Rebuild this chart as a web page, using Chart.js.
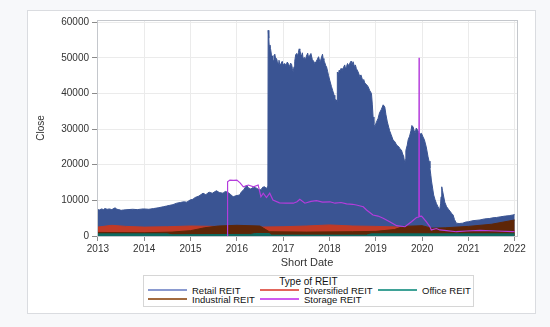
<!DOCTYPE html>
<html>
<head>
<meta charset="utf-8">
<script src="https://cdn.jsdelivr.net/npm/chart.js@4.4.1/dist/chart.umd.min.js"></script>
<style>
  html, body { margin: 0; padding: 0; background: #f7f8fa; }
  #wrap { position: relative; width: 550px; height: 327px; overflow: hidden; }
  #frame { position: absolute; left: 27px; top: 10px; width: 507px; height: 302px; background: #fff; border: 1px solid #dadce0; }
  #chart { position: absolute; left: 0; top: 0; }
  #legend { position: absolute; left: 143px; top: 275px; width: 329px; height: 30px; border: 1px solid #d6d6d6; background: #fff;
            font-family: "Liberation Sans", Arial, sans-serif; color: #111; }
  #legend .title { position: absolute; left: 0; right: 0; top: 0; text-align: center; font-size: 10px; line-height: 11px; }
  #legend .item { position: absolute; height: 10px; font-size: 9.5px; line-height: 10px; white-space: nowrap; }
  #legend .item i { display: inline-block; width: 39px; height: 0; border-top: 2px solid; vertical-align: middle; margin-right: 5px; position: relative; top: -1px; }
</style>
</head>
<body>
<div id="wrap">
  <div id="frame"></div>
  <canvas id="chart" width="550" height="327"></canvas>
  <div id="legend"></div>
</div>
<script>
// axis ticks
const yearTicks = [2013, 2014, 2015, 2016, 2017, 2018, 2019, 2020, 2021, 2022];
const closeTicks = [0, 10000, 20000, 30000, 40000, 50000, 60000];
const seriesNames = ['Retail REIT', 'Diversified REIT', 'Office REIT', 'Industrial REIT', 'Storage REIT'];

// [decimal year, close] pairs
const retailSeries = [
  [2013.00, 7400], [2013.03, 7300], [2013.08, 7600], [2013.12, 7400], [2013.15, 7700], [2013.20, 7500],
  [2013.25, 7600], [2013.30, 7400], [2013.37, 7900], [2013.41, 7500], [2013.45, 7400], [2013.50, 7200],
  [2013.55, 7300], [2013.65, 7400], [2013.75, 7500], [2013.85, 7400], [2013.98, 7600], [2014.10, 7500],
  [2014.20, 7700], [2014.30, 7900], [2014.41, 8200], [2014.48, 8400], [2014.55, 8600], [2014.62, 8800],
  [2014.70, 9200], [2014.78, 9400], [2014.85, 9600], [2014.92, 9500], [2014.99, 10100], [2015.05, 10300],
  [2015.10, 10800], [2015.18, 11200], [2015.27, 12000], [2015.33, 11600], [2015.40, 12300], [2015.47, 12000],
  [2015.56, 12700], [2015.62, 12200], [2015.70, 12000], [2015.75, 12500], [2015.80, 12300], [2015.86, 11700],
  [2015.92, 11000], [2015.98, 11300], [2016.06, 11500], [2016.10, 12400], [2016.15, 13000], [2016.21, 14300],
  [2016.25, 13500], [2016.30, 13200], [2016.36, 13700], [2016.43, 13400], [2016.48, 12900], [2016.52, 13000],
  [2016.56, 13700], [2016.60, 13800], [2016.64, 13300], [2016.67, 14000], [2016.676, 57700], [2016.69, 55500],
  [2016.70, 53000], [2016.715, 53600], [2016.727, 52600], [2016.745, 51000], [2016.76, 50500], [2016.77, 48700],
  [2016.784, 49300], [2016.80, 50600], [2016.82, 51000], [2016.84, 49500], [2016.857, 49800], [2016.875, 48900],
  [2016.89, 48500], [2016.91, 49300], [2016.928, 47900], [2016.95, 48300], [2016.98, 49000], [2017.00, 48000],
  [2017.036, 48400], [2017.06, 47800], [2017.09, 48800], [2017.12, 48100], [2017.144, 47500], [2017.16, 48500],
  [2017.18, 48200], [2017.20, 47000], [2017.215, 46000], [2017.235, 47500], [2017.25, 49000], [2017.27, 50800],
  [2017.289, 51200], [2017.31, 50600], [2017.33, 51500], [2017.345, 52500], [2017.36, 52100], [2017.38, 51000],
  [2017.40, 50500], [2017.415, 51400], [2017.431, 49800], [2017.46, 50100], [2017.48, 49400], [2017.50, 50400],
  [2017.53, 51300], [2017.55, 50000], [2017.576, 50700], [2017.60, 51200], [2017.63, 49500], [2017.66, 49000],
  [2017.684, 48400], [2017.71, 48900], [2017.74, 49600], [2017.765, 50300], [2017.792, 48900], [2017.81, 49300],
  [2017.83, 50200], [2017.85, 51000], [2017.863, 49800], [2017.88, 49200], [2017.90, 48600], [2017.92, 47800],
  [2017.936, 47500], [2017.96, 46200], [2017.98, 45000], [2018.01, 43500], [2018.044, 41900], [2018.07, 40800],
  [2018.10, 39500], [2018.115, 38000], [2018.14, 38300], [2018.165, 37700], [2018.17, 46000], [2018.19, 45200],
  [2018.21, 46500], [2018.223, 46000], [2018.25, 47000], [2018.27, 46300], [2018.30, 47200], [2018.33, 48000],
  [2018.35, 46800], [2018.368, 47500], [2018.39, 48400], [2018.42, 47700], [2018.44, 48500], [2018.47, 49100],
  [2018.49, 48000], [2018.51, 48900], [2018.54, 47500], [2018.56, 48000], [2018.58, 47000], [2018.62, 46000],
  [2018.655, 44700], [2018.68, 45200], [2018.72, 43500], [2018.74, 43900], [2018.763, 42900], [2018.80, 42500],
  [2018.834, 41900], [2018.87, 40800], [2018.907, 40000], [2018.925, 37000], [2018.942, 33400], [2018.96, 31500],
  [2018.979, 30600], [2019.01, 31800], [2019.05, 33000], [2019.08, 34500], [2019.12, 35500], [2019.16, 36800],
  [2019.195, 36200], [2019.22, 34000], [2019.25, 32000], [2019.28, 30500], [2019.30, 29500], [2019.33, 28500],
  [2019.374, 26900], [2019.41, 26500], [2019.45, 25500], [2019.50, 25000], [2019.52, 24500], [2019.555, 24100],
  [2019.58, 23000], [2019.60, 22500], [2019.627, 20400], [2019.64, 21500], [2019.65, 24000], [2019.68, 25500],
  [2019.70, 27000], [2019.73, 28000], [2019.76, 29500], [2019.78, 31000], [2019.806, 30600], [2019.83, 29500],
  [2019.85, 29000], [2019.875, 30300], [2019.90, 29800], [2019.93, 29000], [2019.96, 28600], [2019.987, 28800],
  [2020.02, 27800], [2020.05, 27000], [2020.09, 25000], [2020.129, 22200], [2020.15, 21000], [2020.17, 19000],
  [2020.19, 17000], [2020.20, 15700], [2020.23, 13200], [2020.25, 11500], [2020.28, 10200], [2020.31, 9100],
  [2020.34, 8300], [2020.36, 7800], [2020.38, 7300], [2020.40, 9000], [2020.41, 11000], [2020.425, 13800],
  [2020.44, 12800], [2020.46, 11500], [2020.49, 9500], [2020.53, 8200], [2020.57, 7500], [2020.60, 7000],
  [2020.64, 6300], [2020.67, 5900], [2020.70, 4600], [2020.74, 3600], [2020.80, 3500], [2020.88, 3600],
  [2020.94, 3900], [2021.00, 4000], [2021.10, 4300], [2021.25, 4500], [2021.35, 4800], [2021.45, 4900],
  [2021.53, 5100], [2021.61, 5200], [2021.70, 5400], [2021.80, 5600], [2021.88, 5700], [2021.96, 5900],
  [2022.00, 6000]
];

const diversifiedSeries = [
  [2013.0, 2500], [2013.3, 3000], [2013.6, 2700], [2014.0, 2500], [2014.5, 2600], [2015.0, 2800],
  [2015.5, 2700], [2016.0, 2600], [2016.5, 2500], [2017.0, 2600], [2017.5, 2800], [2018.0, 3100],
  [2018.5, 2800], [2019.0, 2700], [2019.5, 2500], [2020.0, 2600], [2020.15, 2300], [2020.25, 1300],
  [2020.5, 1500], [2021.0, 1200], [2021.5, 1300], [2022.0, 1400]
];

const officeSeries = [
  [2013.0, 600], [2014.5, 600], [2014.6, 350], [2016.3, 450], [2016.4, 700], [2016.7, 700],
  [2016.75, 250], [2018.8, 250], [2018.9, 600], [2022.0, 600]
];

const industrialSeries = [
  [2013.0, 1000], [2014.0, 900], [2014.6, 1100], [2015.0, 1500], [2015.3, 2300], [2015.6, 2800],
  [2016.0, 3000], [2016.5, 2800], [2016.7, 1200], [2017.5, 1100], [2018.5, 1200], [2019.0, 1300],
  [2019.4, 1800], [2019.6, 2700], [2020.0, 2900], [2020.2, 2200], [2020.5, 2300], [2021.0, 2700],
  [2021.5, 3300], [2022.0, 4500]
];

const storageSeries = [
  [2015.79, 0], [2015.80, 15200], [2015.85, 15700], [2015.93, 15600], [2016.00, 15700], [2016.07, 14900],
  [2016.14, 13800], [2016.25, 14300], [2016.36, 13800], [2016.46, 14300], [2016.52, 11000], [2016.57, 12000],
  [2016.64, 10800], [2016.71, 12000], [2016.78, 10100], [2016.92, 9300], [2017.06, 9200], [2017.22, 9200],
  [2017.30, 9600], [2017.36, 10300], [2017.47, 9200], [2017.60, 9700], [2017.72, 9900], [2017.85, 9500],
  [2018.01, 9600], [2018.12, 9200], [2018.25, 9400], [2018.37, 9000], [2018.50, 8900], [2018.58, 8700],
  [2018.73, 8200], [2018.80, 7300], [2018.94, 5900], [2019.05, 5600], [2019.16, 5000], [2019.30, 4000],
  [2019.45, 2900], [2019.63, 2600], [2019.77, 4000], [2019.88, 5200], [2019.93, 5300], [2019.935, 50000],
  [2019.94, 5500], [2019.99, 5600], [2020.09, 4000], [2020.17, 2600], [2020.20, 1700], [2020.31, 2100],
  [2020.38, 1700], [2020.53, 1500], [2020.74, 1200], [2020.96, 1400], [2021.25, 1600], [2021.61, 1400],
  [2021.96, 1200], [2022.00, 1300]
];

function pts(series) {
  return series.map(p => ({ x: p[0], y: p[1] }));
}

const FONT = '"Liberation Sans", Arial, sans-serif';

// dark colours for the marks, lighter ones for the legend lines
const markColors = ['#3a5493', '#c13a26', '#0e6b62', '#5e2607', '#b43cdc'];
const legendColors = ['#8a9ad0', '#e2665c', '#3fa297', '#a26b40', '#cf5cf0'];

function area(label, data, color, order) {
  return {
    label: label,
    data: data,
    borderColor: color,
    backgroundColor: color,
    borderWidth: 1,
    pointRadius: 0,
    tension: 0,
    fill: 'origin',
    order: order
  };
}

const frame = {
  id: 'frame',
  afterDatasetsDraw(chart) {
    const a = chart.chartArea;
    const c = chart.ctx;
    c.save();
    c.strokeStyle = '#c4c7cc';
    c.lineWidth = 1;
    c.strokeRect(a.left + 0.5, a.top + 0.5, a.right - a.left, a.bottom - a.top);
    c.restore();
  }
};

new Chart(document.getElementById('chart'), {
  type: 'line',
  data: {
    datasets: [
      area(seriesNames[0], pts(retailSeries), markColors[0], 5),
      area(seriesNames[1], pts(diversifiedSeries), markColors[1], 4),
      area(seriesNames[2], pts(officeSeries), markColors[2], 2),
      area(seriesNames[3], pts(industrialSeries), markColors[3], 3),
      {
        label: seriesNames[4],
        data: pts(storageSeries),
        borderColor: markColors[4],
        borderWidth: 1.2,
        pointRadius: 0,
        tension: 0,
        fill: false,
        order: 1
      }
    ]
  },
  options: {
    responsive: false,
    animation: false,
    layout: { padding: { left: 35, top: 20, right: 33, bottom: 55 } },
    plugins: {
      legend: { display: false },
      tooltip: { enabled: false }
    },
    scales: {
      x: {
        type: 'linear',
        min: 2012.98,
        max: 2022.05,
        afterBuildTicks: function (s) { s.ticks = yearTicks.map(v => ({ value: v })); },
        afterFit: function (s) { s.height = 36; },
        ticks: {
          color: '#333',
          padding: 2,
          maxRotation: 0,
          font: { family: FONT, size: 10 },
          callback: function (v) { return String(v); }
        },
        grid: { color: '#ebebeb', tickColor: '#8a8a8a', tickLength: 5 },
        border: { color: '#9a9a9a' },
        title: {
          display: true,
          text: 'Short Date',
          color: '#333',
          font: { family: FONT, size: 11 },
          padding: { top: 0, bottom: 2 }
        }
      },
      y: {
        min: 0,
        max: 60600,
        afterBuildTicks: function (s) { s.ticks = closeTicks.map(v => ({ value: v })); },
        afterFit: function (s) { s.width = 62; },
        ticks: {
          color: '#333',
          padding: 3,
          font: { family: FONT, size: 10 },
          callback: function (v) { return String(v); }
        },
        grid: { color: '#ebebeb', tickColor: '#8a8a8a', tickLength: 5 },
        border: { color: '#9a9a9a' },
        title: {
          display: true,
          text: 'Close',
          color: '#333',
          font: { family: FONT, size: 10 },
          padding: { top: 0, bottom: 0 }
        }
      }
    }
  },
  plugins: [frame]
});

// legend: title plus 3 columns x 2 rows
const legend = document.getElementById('legend');
const title = document.createElement('div');
title.className = 'title';
title.textContent = 'Type of REIT';
legend.appendChild(title);
const colLeft = [4, 116, 234];
const rowTop = [10, 19];
seriesNames.forEach(function (name, i) {
  const item = document.createElement('div');
  item.className = 'item';
  item.style.left = colLeft[i % 3] + 'px';
  item.style.top = rowTop[Math.floor(i / 3)] + 'px';
  const line = document.createElement('i');
  line.style.borderColor = legendColors[i];
  item.appendChild(line);
  item.appendChild(document.createTextNode(name));
  legend.appendChild(item);
});
</script>
</body>
</html>
